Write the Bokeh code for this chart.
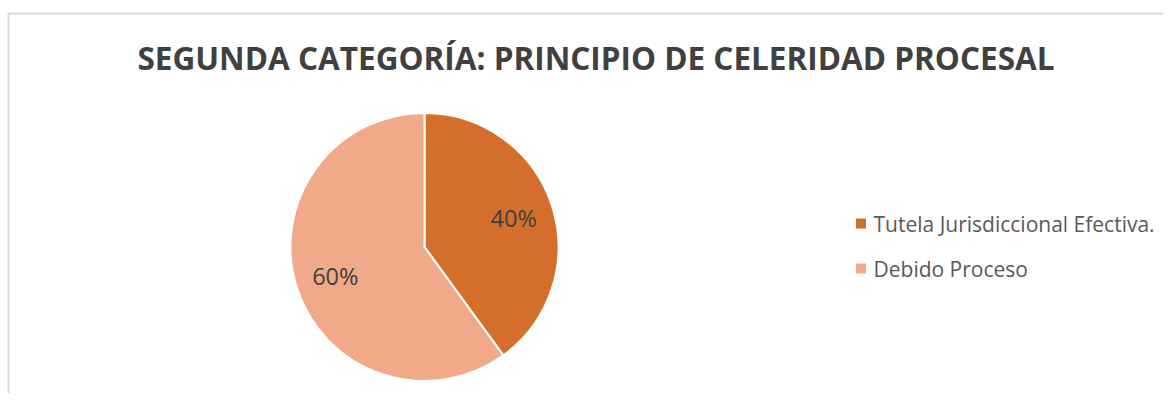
import math
from bokeh.plotting import figure
from bokeh.embed import file_html
from bokeh.resources import INLINE
from bokeh.core.properties import value
from bokeh.models import ColumnDataSource, Range1d

# ---- data ----
categories = ["Tutela Jurisdiccional Efectiva.", "Debido Proceso"]
percentages = [40, 60]
colors = ["#D36F2B", "#F2A98A"]
title_text = "SEGUNDA CATEGORÍA: PRINCIPIO DE CELERIDAD PROCESAL"

W, H = 1163, 393

def fy(win_y):
    # picture y (from top) -> data y (from bottom)
    return H - win_y

def fx(win_x):
    return win_x

p = figure(width=W, height=H, output_backend="svg", toolbar_location=None,
           x_range=Range1d(0, W), y_range=Range1d(0, H),
           min_border=0, outline_line_color=None)
p.axis.visible = False
p.xgrid.visible = False
p.ygrid.visible = False
p.background_fill_color = "white"
p.border_fill_color = "white"

# chart frame (left and top edges visible)
p.line(x=[fx(8), fx(8), W], y=[0, fy(13), fy(13)], line_color="#d9d9d9", line_width=2)

# title
p.text(x=[fx(595.5)], y=[fy(57)], text=[title_text], text_align="center",
       text_baseline="middle", text_font=value("Open Sans"), text_font_style="bold",
       text_font_size="31.5px", text_color="#404040")

# pie
cx, cy, r = fx(424), fy(246.5), 134
total = float(sum(percentages))
starts, ends, mids = [], [], []
cum = 0.0
for v in percentages:
    a0 = math.pi / 2 - 2 * math.pi * cum / total
    cum += v
    a1 = math.pi / 2 - 2 * math.pi * cum / total
    starts.append(a0)
    ends.append(a1)
    mids.append((a0 + a1) / 2)

src = ColumnDataSource(dict(start=starts, end=ends, color=colors,
                            x=[cx] * len(percentages), y=[cy] * len(percentages)))
p.wedge(x="x", y="y", radius=r, radius_units="screen", start_angle="start", end_angle="end",
        direction="clock", fill_color="color", line_color="white", line_width=2, source=src)

# data labels
lr = 0.70 * r
lx = [cx + lr * math.cos(m) for m in mids]
ly = [cy + lr * math.sin(m) for m in mids]
labels = ["%d%%" % v for v in percentages]
p.text(x=lx, y=ly, text=labels, text_align="center", text_baseline="middle",
       text_font=value("Open Sans"), text_font_size="23.5px", text_color="#404040")

# legend
leg_y = [fy(223) - i * 45 for i in range(len(categories))]
p.rect(x=[fx(860.5)] * len(categories), y=leg_y, width=10, height=10,
       width_units="screen", height_units="screen",
       fill_color=colors, line_color=None)
p.text(x=[fx(873)] * len(categories), y=leg_y, text=categories, text_align="left",
       text_baseline="middle", text_font=value("Open Sans"), text_font_size="21px",
       text_color="#595959")

open("out.html", "w").write(file_html(p, INLINE))
